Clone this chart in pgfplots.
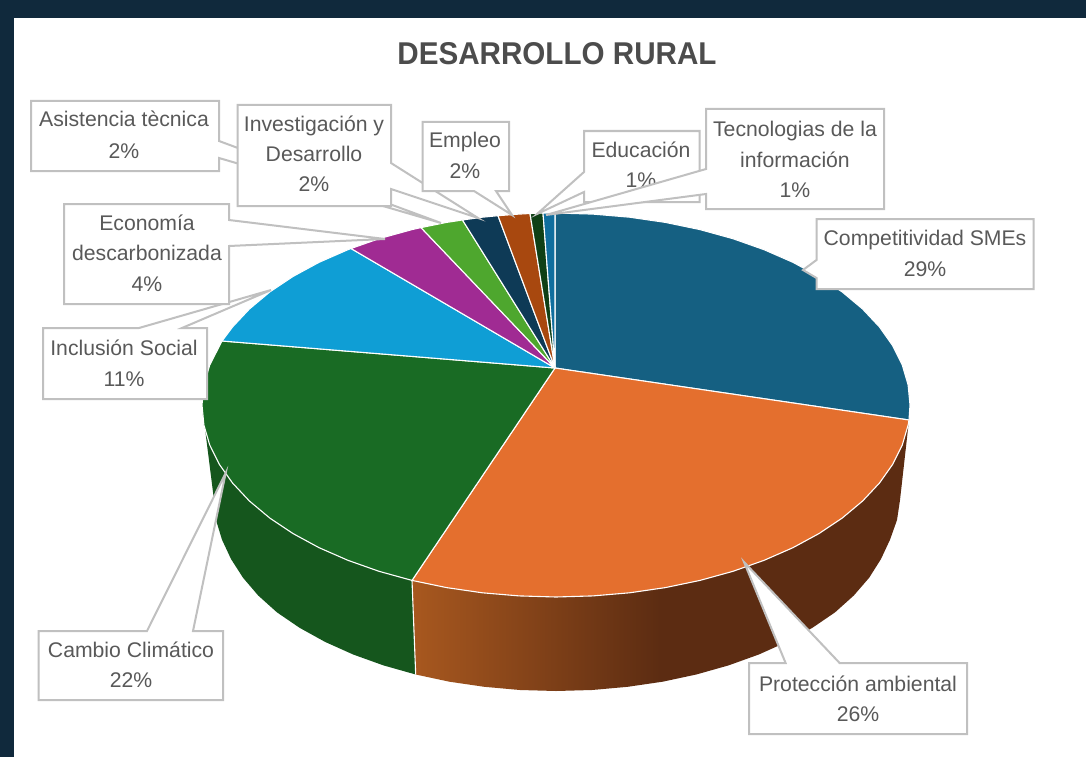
\documentclass[border=0pt]{standalone}
\usepackage{fontspec}
\setmainfont{Liberation Sans}
\usepackage{pgfplots}
\pgfplotsset{compat=1.18}
\definecolor{frame}{HTML}{10293C}
\definecolor{cA}{HTML}{156082}
\definecolor{cB}{HTML}{E46F2E}
\definecolor{cC}{HTML}{196B24}
\definecolor{cD}{HTML}{0F9ED5}
\definecolor{cE}{HTML}{A02B93}
\definecolor{cF}{HTML}{4EA72E}
\definecolor{cG}{HTML}{0E3A56}
\definecolor{cH}{HTML}{A8480F}
\definecolor{cI}{HTML}{0F4016}
\definecolor{cJ}{HTML}{0F6E9E}
\definecolor{wallG}{HTML}{15561D}
\definecolor{wallL}{HTML}{A8581F}
\definecolor{wallD}{HTML}{5C2C12}
\definecolor{boxline}{HTML}{C0C0C0}
\definecolor{txt}{HTML}{595959}
\pgfplotsset{
  face/.style={draw=white,line width=1.1pt,line join=round,fill=#1,no markers},
  call/.style={draw=boxline,line width=2pt,line join=miter,fill=white,no markers}
}
\newcommand{\lbl}[3]{\node[anchor=mid,inner sep=0pt,yshift=-5pt,text=txt,font=\fontsize{21.2}{24}\selectfont] at (axis cs:#1,#2) {#3};}
\begin{document}
\begin{tikzpicture}
\begin{axis}[
  scale only axis,width=1086pt,height=757pt,
  xmin=0,xmax=1086,ymin=0,ymax=757,y dir=reverse,
  hide axis,clip=false]
% frame
\addplot[fill=frame,draw=none,no markers] coordinates {(0,0)(1086,0)(1086,757)(0,757)} --cycle;
\addplot[fill=white,draw=none,no markers] coordinates {(14,18)(1086,18)(1086,757)(14,757)} --cycle;
% side walls
\addplot[fill=wallG,draw=none,no markers] coordinates {
(412,580.4)(379,571.3)(347.9,560.3)(319.1,547.7)(292.9,533.5)(269.6,517.9)(249.4,501)(232.6,483.1)(219.3,464.3)(209.7,444.9)(203.9,425.1)(202,405)
(214,500)(216,520)(222,539.7)(231,559)(243,577.7)(258.2,595.5)(276.9,612.3)(299.6,627.8)(325.1,641.9)(353.2,654.5)(383.5,665.4)(415.7,674.5)} --cycle;
\addplot[draw=none,no markers,left color=wallL,right color=wallD,middle color=wallD] coordinates {
(412,580.4)(446.6,587.6)(482.4,592.8)(519,595.9)(556,597)(593,595.9)(629.6,592.8)(665.4,587.6)(700,580.4)(733,571.3)(764.1,560.3)(792.9,547.7)(819.1,533.5)(842.4,517.9)(862.6,501)(879.4,483.1)(892.7,464.3)(902.3,444.9)(908.1,425.1)(909,420)
(900,500)(897,520)(890,539.7)(881,559)(869.2,577.7)(853.8,595.5)(835.1,612.3)(812.4,627.8)(786.9,641.9)(758.8,654.5)(728.5,665.4)(696.3,674.5)(662.6,681.7)(627.7,686.8)(592.1,690)(556,691)(519.9,690)(484.3,686.8)(449.4,681.7)(415.7,674.5)} --cycle;
\addplot[draw=white,line width=1.1pt,no markers] coordinates {(412,580.4)(415.7,674.5)};
% top faces, one per slice
\addplot[face=cA] coordinates {(555,368)(555,213)(593,214.1)(629.6,217.2)(665.4,222.4)(700,229.6)(733,238.7)(764.1,249.7)(792.9,262.3)(819.1,276.5)(842.4,292.1)(862.6,309)(879.4,326.9)(892.7,345.7)(902.3,365.1)(908.1,384.9)(910,405)(909,420)} --cycle;
\addplot[face=cB] coordinates {(555,368)(909,420)(908.1,425.1)(902.3,444.9)(892.7,464.3)(879.4,483.1)(862.6,501)(842.4,517.9)(819.1,533.5)(792.9,547.7)(764.1,560.3)(733,571.3)(700,580.4)(665.4,587.6)(629.6,592.8)(593,595.9)(556,597)(519,595.9)(482.4,592.8)(446.6,587.6)(412,580.4)} --cycle;
\addplot[face=cC] coordinates {(555,368)(412,580.4)(379,571.3)(347.9,560.3)(319.1,547.7)(292.9,533.5)(269.6,517.9)(249.4,501)(232.6,483.1)(219.3,464.3)(209.7,444.9)(203.9,425.1)(202,405)(203.9,384.9)(209.7,365.1)(222,341)} --cycle;
\addplot[face=cD] coordinates {(555,368)(222,341)(232.6,326.9)(249.4,309)(269.6,292.1)(292.9,276.5)(319.1,262.3)(347.9,249.7)(351,248.5)} --cycle;
\addplot[face=cE] coordinates {(555,368)(351,248.5)(379,238.7)(412,229.6)(421,227.6)} --cycle;
\addplot[face=cF] coordinates {(555,368)(421,227.6)(446.6,222.4)(462.5,220)} --cycle;
\addplot[face=cG] coordinates {(555,368)(462.5,220)(482.4,217.2)(498,215.7)} --cycle;
\addplot[face=cH] coordinates {(555,368)(498,215.7)(519,214.1)(530,213.5)} --cycle;
\addplot[face=cI] coordinates {(555,368)(530,213.5)(543,213.1)} --cycle;
\addplot[face=cJ] coordinates {(555,368)(543,213.1)(555,213)} --cycle;
% callouts in series order
\addplot[call] coordinates {(816.5,219)(1033.5,219)(1033.5,289)(816.5,289)(816.5,278)(803,270)(816.5,260)} --cycle;
\lbl{925}{238}{Competitividad SMEs}\lbl{925}{269}{29\%}
\addplot[call] coordinates {(749,663)(785.6,663)(744,562)(839.6,663)(967,663)(967,734)(749,734)} --cycle;
\lbl{858}{684}{Protección ambiental}\lbl{858}{714}{26\%}
\addplot[call] coordinates {(38.6,631)(147,631)(225.7,473)(193,631)(223,631)(223,700)(38.6,700)} --cycle;
\lbl{131}{650}{Cambio Climático}\lbl{131}{680}{22\%}
\addplot[call] coordinates {(43,328)(139,328)(271,290)(182,328)(207,328)(207,399)(43,399)} --cycle;
\lbl{124}{348}{Inclusión Social}\lbl{124}{379}{11\%}
\addplot[call] coordinates {(64,204)(229,204)(229,220)(385,239)(229,246)(229,304)(64,304)} --cycle;
\lbl{147}{223}{Economía}\lbl{147}{253}{descarbonizada}\lbl{147}{284}{4\%}
\addplot[call] coordinates {(31,101)(219,101)(219,141)(441,223)(219,158)(219,171)(31,171)} --cycle;
\lbl{124}{119}{Asistencia tècnica}\lbl{124}{151}{2\%}
\addplot[call] coordinates {(237.5,105)(391,105)(391,163)(478,218)(391,189)(391,206)(237.5,206)} --cycle;
\lbl{314}{124}{Investigación y}\lbl{314}{154}{Desarrollo}\lbl{314}{184}{2\%}
\addplot[call] coordinates {(422.5,122)(509,122)(509,191)(496,191)(512,215)(474,191)(422.5,191)} --cycle;
\lbl{465}{140}{Empleo}\lbl{465}{171}{2\%}
\addplot[call] coordinates {(584,131)(699.5,131)(699.5,202)(584,202)(584,192)(537,214)(584,172)} --cycle;
\lbl{641}{150}{Educación}\lbl{641}{180}{1\%}
\addplot[call] coordinates {(706,109)(884,109)(884,209)(706,209)(706,194)(546,215)(706,169)} --cycle;
\lbl{795}{129}{Tecnologias de la}\lbl{795}{160}{información}\lbl{795}{190}{1\%}
\node[anchor=center,inner sep=0pt,text=black!70,font=\fontsize{31.5}{34}\selectfont\bfseries] at (axis cs:557,54) {\scalebox{.94}[1]{DESARROLLO RURAL}};
\end{axis}
\end{tikzpicture}
\end{document}
